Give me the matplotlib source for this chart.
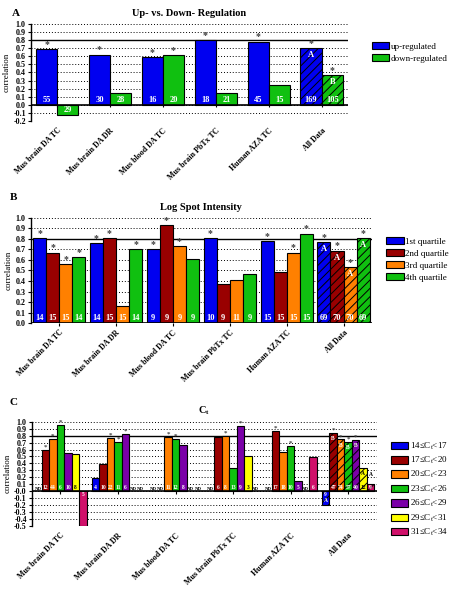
import numpy as np
import matplotlib
matplotlib.use('Agg')
import matplotlib.pyplot as plt
from matplotlib.patches import Patch

plt.rcParams['font.family'] = ['Liberation Serif', 'DejaVu Serif']
plt.rcParams['font.weight'] = 'bold'
plt.rcParams['hatch.linewidth'] = 0.7
plt.rcParams['mathtext.default'] = 'regular'

groups = ['Mus brain DA TC', 'Mus brain DA DR', 'Mus blood DA TC',
          'Mus brain PbTx TC', 'Human AZA TC', 'All Data']

# --- panel A: up vs. down regulation
a_labels = ['up-regulated', 'down-regulated']
a_colors = ['#0000f0', '#10c010']
a_vals   = [[0.69, 0.62, 0.59, 0.80, 0.78, 0.70],
            [-0.12, 0.15, 0.61, 0.14, 0.25, 0.37]]
a_counts = [[55, 30, 16, 18, 45, 169],
            [29, 28, 20, 21, 15, 105]]
a_stars  = [[1, 1, 1, 1, 1, 1],
            [0, 0, 1, 0, 0, 1]]
a_letters = [['', '', '', '', '', 'A'],
             ['', '', '', '', '', 'B']]

# --- panel B: log spot intensity quartiles
b_labels = ['1st quartile', '2nd quartile', '3rd quartile', '4th quartile']
b_colors = ['#0000f0', '#990000', '#ff8000', '#10c010']
b_vals   = [[0.81, 0.76, 0.70, 0.81, 0.78, 0.77],
            [0.67, 0.81, 0.93, 0.37, 0.49, 0.69],
            [0.56, 0.16, 0.73, 0.41, 0.67, 0.53],
            [0.63, 0.70, 0.61, 0.47, 0.85, 0.81]]
b_counts = [[14, 14, 9, 10, 15, 69],
            [15, 15, 9, 9, 15, 70],
            [15, 15, 9, 11, 15, 70],
            [14, 14, 9, 9, 15, 69]]
b_stars  = [[1, 1, 1, 1, 1, 1],
            [1, 1, 1, 0, 0, 1],
            [1, 0, 1, 0, 1, 1],
            [1, 1, 0, 0, 1, 1]]
b_letters = [['', '', '', '', '', 'A']] * 4

# --- panel C: Ct bins (None = ND)
c_labels = ['14≤C$_t$<17', '17≤C$_t$<20', '20≤C$_t$<23', '23≤C$_t$<26',
            '26≤C$_t$<29', '29≤C$_t$<31', '31≤C$_t$<34']
c_colors = ['#0000f0', '#990000', '#ff8000', '#10c010', '#7a00a8',
            '#ffff00', '#d0106a']
c_vals   = [[None, 0.19, None, None, None, -0.20],
            [0.60, 0.39, None, 0.775, 0.87, 0.84],
            [0.755, 0.76, 0.775, 0.79, 0.57, 0.745],
            [0.95, 0.71, 0.755, 0.34, 0.65, 0.71],
            [0.55, 0.82, 0.67, 0.94, 0.14, 0.735],
            [0.54, None, None, 0.50, None, 0.34],
            [-0.50, None, None, None, 0.49, 0.11]]
c_counts = [[None, 4, None, None, None, 9],
            [12, 10, None, 6, 17, 47],
            [44, 22, 11, 8, 18, 74],
            [6, 11, 12, 13, 10, 57],
            [10, 6, 8, 9, 5, 40],
            [8, None, None, 3, None, 12],
            [5, None, None, None, 6, 9]]
c_stars  = [[0, 0, 0, 0, 0, 0],
            [1, 0, 0, 0, 1, 1],
            [1, 1, 1, 1, 0, 1],
            [1, 1, 1, 0, 1, 1],
            [0, 1, 0, 1, 0, 1],
            [0, 0, 0, 0, 0, 0],
            [0, 0, 0, 0, 0, 0]]
c_letters = [['', '', '', '', '', 'A'],
             ['', '', '', '', '', 'B'],
             ['', '', '', '', '', 'B'],
             ['', '', '', '', '', 'B'],
             ['', '', '', '', '', 'B'],
             ['', '', '', '', '', 'A'],
             ['', '', '', '', '', 'A']]


def panel(ax, vals, counts, stars, letters, colors, width, ylim, fs,
          title, zero_label='0.0'):
    x = np.arange(len(groups))
    nser = len(vals)
    span = ylim[1] - ylim[0]
    for k in range(nser):
        xs = x + (k - (nser - 1) / 2.0) * width
        tcol = 'black' if colors[k] == '#ffff00' else 'white'
        for i in range(len(groups)):
            v = vals[k][i]
            if v is None:
                ax.text(xs[i], 0.005 * span, 'ND', ha='center', va='bottom',
                        fontsize=fs - 0.5, color='black')
                continue
            hatch = '////' if groups[i] == 'All Data' else None
            ax.bar(xs[i], v, width, color=colors[k], edgecolor='black',
                   linewidth=0.8, hatch=hatch, zorder=2)
            n = counts[k][i]
            if v >= 0:
                ax.text(xs[i], 0.008 * span, str(n), ha='center',
                        va='bottom', fontsize=fs, color=tcol, zorder=3)
            else:
                ax.text(xs[i], -0.008 * span, str(n), ha='center',
                        va='top', fontsize=fs, color=tcol, zorder=3)
            if stars[k][i]:
                ax.text(xs[i], v + 0.003 * span, '*', ha='center',
                        va='bottom', fontsize=fs + 1, color='#404040')
            let = letters[k][i]
            if let:
                if v < 0:
                    ax.text(xs[i], v + 0.02 * span, let, ha='center',
                            va='bottom', fontsize=fs, color='white',
                            zorder=3)
                elif v < 0.2:
                    ax.text(xs[i], v + 0.06 * span, let, ha='center',
                            va='bottom', fontsize=fs, color='black')
                else:
                    ax.text(xs[i], v - 0.03 * span, let, ha='center',
                            va='top', fontsize=fs, color=tcol, zorder=3)

    ax.set_xlim(-0.5, len(groups) - 0.5)
    ax.set_ylim(*ylim)
    ticks = np.round(np.arange(ylim[0], ylim[1] + 0.001, 0.1), 1)
    ax.set_yticks(ticks)
    ax.set_yticklabels([zero_label if t == 0 else '%.1f' % t
                        for t in ticks], fontsize=5.8)
    ax.yaxis.grid(True, linestyle=(0, (1, 2)), color='black',
                  linewidth=0.7)
    ax.set_axisbelow(True)
    ax.axhline(0.8, color='black', linewidth=1.0, zorder=1)
    ax.axhline(0.0, color='black', linewidth=1.2, zorder=4)
    ax.vlines(x, -0.025 * span, 0.0, color='black', linewidth=0.8,
              zorder=4, clip_on=False)
    for s in ['top', 'right', 'bottom']:
        ax.spines[s].set_visible(False)
    ax.spines['left'].set_linewidth(1.0)
    ax.tick_params(axis='y', length=2.5, width=0.8, pad=1)
    ax.set_xticks(x)
    ax.set_xticklabels(groups, rotation=45, ha='right', va='top',
                       rotation_mode='anchor', fontsize=5.8)
    ax.tick_params(axis='x', length=0, pad=4)
    ax.set_ylabel('correlation', fontsize=6.5, labelpad=2)
    ax.set_title(title, fontsize=7.5, fontweight='bold', pad=6)


fig = plt.figure(figsize=(4.52, 5.89), dpi=100)

axA = fig.add_axes([0.068, 0.7946, 0.702, 0.1647])
panel(axA, a_vals, a_counts, a_stars, a_letters, a_colors, 0.4,
      (-0.2, 1.0), 6, 'Up- vs. Down- Regulation')
axB = fig.add_axes([0.068, 0.4516, 0.755, 0.1783])
panel(axB, b_vals, b_counts, b_stars, b_letters, b_colors, 0.23,
      (0.0, 1.0), 6, 'Log Spot Intensity')
axC = fig.add_axes([0.070, 0.107, 0.764, 0.177])
panel(axC, c_vals, c_counts, c_stars, c_letters, c_colors, 0.13,
      (-0.5, 1.0), 4, r'C$_t$', zero_label='-0.0')

for lab, colors, names, pos in [('A', a_colors, a_labels, (0.822, 0.929)),
                                ('B', b_colors, b_labels, (0.855, 0.598)),
                                ('C', c_colors, c_labels, (0.865, 0.252))]:
    handles = [Patch(facecolor=c, edgecolor='black', linewidth=0.8)
               for c in colors]
    fig.legend(handles, names, loc='upper left', bbox_to_anchor=pos,
               frameon=False, prop={'size': 6.5, 'weight': 'normal'},
               handlelength=1.9, handleheight=0.9, handletextpad=0.2,
               labelspacing=0.35, borderaxespad=0, borderpad=0)

fig.text(0.026, 0.977, 'A', fontsize=8, fontweight='bold', va='center')
fig.text(0.022, 0.665, 'B', fontsize=8, fontweight='bold', va='center')
fig.text(0.022, 0.316, 'C', fontsize=8, fontweight='bold', va='center')

fig.savefig('out.png', dpi=100)
